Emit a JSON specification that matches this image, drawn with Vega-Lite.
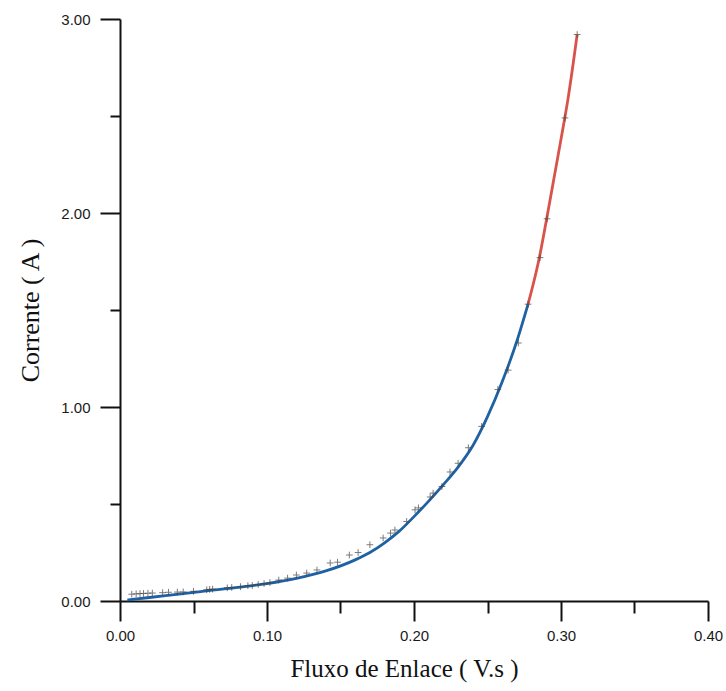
{
  "$schema": "https://vega.github.io/schema/vega-lite/v6.json",
  "width": 588,
  "height": 582,
  "autosize": "none",
  "padding": {"left": 120, "top": 19, "right": 18, "bottom": 90},
  "background": "white",
  "config": {
    "view": {"stroke": null},
    "axis": {
      "grid": false,
      "domainColor": "#111",
      "domainWidth": 2,
      "tickColor": "#111",
      "tickWidth": 2,
      "labelFont": "Liberation Sans",
      "labelFontSize": 15,
      "labelColor": "#1a1a1a",
      "titleFont": "Liberation Serif",
      "titleFontSize": 25,
      "titleFontWeight": "normal",
      "titleColor": "#111"
    }
  },
  "datasets": {
    "curve": [
      {"x": 0.005, "y": 0.005, "seg": "blue"},
      {"x": 0.02, "y": 0.018, "seg": "blue"},
      {"x": 0.04, "y": 0.036, "seg": "blue"},
      {"x": 0.06, "y": 0.053, "seg": "blue"},
      {"x": 0.08, "y": 0.07, "seg": "blue"},
      {"x": 0.10, "y": 0.09, "seg": "blue"},
      {"x": 0.12, "y": 0.117, "seg": "blue"},
      {"x": 0.14, "y": 0.155, "seg": "blue"},
      {"x": 0.16, "y": 0.212, "seg": "blue"},
      {"x": 0.17, "y": 0.25, "seg": "blue"},
      {"x": 0.18, "y": 0.3, "seg": "blue"},
      {"x": 0.19, "y": 0.36, "seg": "blue"},
      {"x": 0.20, "y": 0.435, "seg": "blue"},
      {"x": 0.21, "y": 0.515, "seg": "blue"},
      {"x": 0.22, "y": 0.6, "seg": "blue"},
      {"x": 0.23, "y": 0.69, "seg": "blue"},
      {"x": 0.24, "y": 0.8, "seg": "blue"},
      {"x": 0.25, "y": 0.95, "seg": "blue"},
      {"x": 0.26, "y": 1.13, "seg": "blue"},
      {"x": 0.27, "y": 1.34, "seg": "blue"},
      {"x": 0.2776, "y": 1.53, "seg": "blue"},
      {"x": 0.2776, "y": 1.53, "seg": "red"},
      {"x": 0.285, "y": 1.76, "seg": "red"},
      {"x": 0.29, "y": 1.96, "seg": "red"},
      {"x": 0.295, "y": 2.17, "seg": "red"},
      {"x": 0.30, "y": 2.38, "seg": "red"},
      {"x": 0.305, "y": 2.6, "seg": "red"},
      {"x": 0.311, "y": 2.92, "seg": "red"}
    ],
    "points": [
      {"x": 0.008, "y": 0.035}, {"x": 0.011, "y": 0.037}, {"x": 0.0136, "y": 0.038},
      {"x": 0.016, "y": 0.039}, {"x": 0.019, "y": 0.04}, {"x": 0.022, "y": 0.041},
      {"x": 0.029, "y": 0.043}, {"x": 0.033, "y": 0.045}, {"x": 0.039, "y": 0.046},
      {"x": 0.043, "y": 0.047}, {"x": 0.05, "y": 0.05}, {"x": 0.059, "y": 0.058},
      {"x": 0.061, "y": 0.06}, {"x": 0.063, "y": 0.061}, {"x": 0.073, "y": 0.068},
      {"x": 0.076, "y": 0.07}, {"x": 0.082, "y": 0.074}, {"x": 0.087, "y": 0.079},
      {"x": 0.09, "y": 0.08}, {"x": 0.094, "y": 0.085}, {"x": 0.098, "y": 0.09},
      {"x": 0.102, "y": 0.095}, {"x": 0.108, "y": 0.108}, {"x": 0.114, "y": 0.118},
      {"x": 0.12, "y": 0.134}, {"x": 0.127, "y": 0.144}, {"x": 0.134, "y": 0.16},
      {"x": 0.143, "y": 0.196}, {"x": 0.148, "y": 0.2}, {"x": 0.156, "y": 0.237},
      {"x": 0.162, "y": 0.25}, {"x": 0.17, "y": 0.29}, {"x": 0.179, "y": 0.325},
      {"x": 0.184, "y": 0.35}, {"x": 0.187, "y": 0.366}, {"x": 0.195, "y": 0.41},
      {"x": 0.2007, "y": 0.47}, {"x": 0.203, "y": 0.48}, {"x": 0.211, "y": 0.536},
      {"x": 0.213, "y": 0.556}, {"x": 0.219, "y": 0.59}, {"x": 0.2245, "y": 0.665},
      {"x": 0.23, "y": 0.71}, {"x": 0.237, "y": 0.79}, {"x": 0.246, "y": 0.9},
      {"x": 0.257, "y": 1.09}, {"x": 0.264, "y": 1.19}, {"x": 0.271, "y": 1.33},
      {"x": 0.2776, "y": 1.53}, {"x": 0.2857, "y": 1.77}, {"x": 0.2905, "y": 1.97},
      {"x": 0.3027, "y": 2.49}, {"x": 0.311, "y": 2.92}
    ]
  },
  "layer": [
    {
      "data": {"name": "curve"},
      "mark": {"type": "line", "strokeWidth": 2.8, "interpolate": "monotone"},
      "encoding": {
        "x": {
          "field": "x", "type": "quantitative",
          "scale": {"domain": [0, 0.4], "nice": false, "zero": false},
          "axis": {
            "title": "Fluxo de Enlace ( V.s )",
            "titleX": 284,
            "values": [0, 0.05, 0.1, 0.15, 0.2, 0.25, 0.3, 0.35, 0.4],
            "tickSize": {"condition": {"test": "round(datum.value*100) % 10 === 0", "value": 20}, "value": 12},
            "labelExpr": "round(datum.value*100) % 10 === 0 ? format(datum.value, '.2f') : ''",
            "labelPadding": 7,
            "labelFlush": false,
            "titlePadding": 13
          }
        },
        "y": {
          "field": "y", "type": "quantitative",
          "scale": {"domain": [0, 3], "nice": false},
          "axis": {
            "title": "Corrente ( A )",
            "titleFontSize": 26,
            "values": [0, 0.5, 1, 1.5, 2, 2.5, 3],
            "tickSize": {"condition": {"test": "round(datum.value*10) % 10 === 0", "value": 20}, "value": 10},
            "labelExpr": "round(datum.value*10) % 10 === 0 ? format(datum.value, '.2f') : ''",
            "labelPadding": 10,
            "labelFlush": false,
            "titlePadding": 17
          }
        },
        "color": {
          "field": "seg", "type": "nominal",
          "scale": {"domain": ["blue", "red"], "range": ["#1f62a3", "#d9534a"]},
          "legend": null
        }
      }
    },
    {
      "data": {"name": "points"},
      "mark": {"type": "point", "shape": "M-1,0L1,0M0,-1L0,1", "filled": false, "size": 45, "strokeWidth": 1, "color": "#444"},
      "encoding": {
        "x": {"field": "x", "type": "quantitative"},
        "y": {"field": "y", "type": "quantitative"}
      }
    }
  ]
}
